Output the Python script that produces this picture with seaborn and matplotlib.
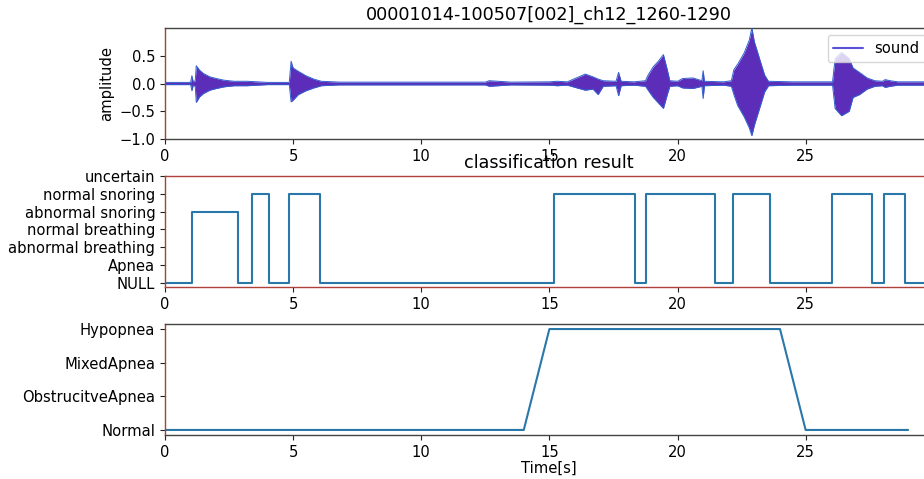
import numpy as np
import pandas as pd
import matplotlib
matplotlib.use("Agg")
import matplotlib.pyplot as plt
import seaborn as sns
from matplotlib.lines import Line2D

# ---------------- data ----------------
title_top = "00001014-100507[002]_ch12_1260-1290"
title_mid = "classification result"

# waveform envelope (time [s], upper / lower amplitude)
wave_t = [0.0, 1.0, 1.05, 1.1, 1.18, 1.22, 1.35, 1.5, 1.75, 2.0, 2.3, 2.7, 3.2, 3.6, 4.0,
          4.85, 4.92, 5.0, 5.2, 5.5, 5.8, 6.1, 6.8, 9.0, 12.5, 12.65, 13.0, 13.5, 15.0,
          15.3, 15.7, 16.0, 16.4, 16.7, 16.9, 17.1, 17.6, 17.7, 17.8, 18.3, 18.75, 18.85,
          19.05, 19.25, 19.45, 19.6, 19.7, 20.0, 20.2, 20.6, 20.95, 21.0, 21.05, 21.8,
          22.1, 22.2, 22.35, 22.6, 22.8, 22.9, 23.0, 23.2, 23.4, 23.55, 24.5, 26.05,
          26.15, 26.4, 26.7, 26.85, 27.1, 27.4, 27.7, 28.0, 28.1, 28.3, 28.6, 30.0]
wave_hi = [0.02, 0.02, 0.14, 0.03, 0.05, 0.32, 0.24, 0.18, 0.12, 0.09, 0.06, 0.04, 0.04, 0.03, 0.02,
           0.02, 0.40, 0.28, 0.22, 0.14, 0.08, 0.04, 0.025, 0.025, 0.025, 0.05, 0.04, 0.025, 0.03,
           0.04, 0.03, 0.09, 0.17, 0.12, 0.08, 0.05, 0.04, 0.20, 0.04, 0.03, 0.05, 0.15,
           0.30, 0.40, 0.52, 0.25, 0.05, 0.04, 0.09, 0.10, 0.05, 0.23, 0.04, 0.03,
           0.05, 0.25, 0.35, 0.55, 0.78, 1.00, 0.75, 0.45, 0.15, 0.04, 0.03, 0.03,
           0.45, 0.56, 0.45, 0.28, 0.20, 0.10, 0.05, 0.04, 0.07, 0.05, 0.03, 0.03]
wave_lo = [-0.02, -0.02, -0.13, -0.03, -0.05, -0.34, -0.24, -0.18, -0.12, -0.09, -0.06, -0.04, -0.04, -0.03, -0.02,
           -0.02, -0.33, -0.30, -0.20, -0.13, -0.08, -0.04, -0.025, -0.025, -0.025, -0.05, -0.04, -0.025, -0.03,
           -0.04, -0.03, -0.07, -0.12, -0.10, -0.20, -0.05, -0.04, -0.22, -0.04, -0.03, -0.05, -0.12,
           -0.25, -0.35, -0.45, -0.20, -0.05, -0.04, -0.08, -0.09, -0.05, -0.27, -0.04, -0.03,
           -0.05, -0.20, -0.40, -0.60, -0.80, -0.94, -0.75, -0.45, -0.15, -0.04, -0.03, -0.03,
           -0.45, -0.58, -0.50, -0.25, -0.20, -0.10, -0.05, -0.04, -0.07, -0.05, -0.03, -0.03]

# classification result (step changes)
class_labels = ["NULL", "Apnea", "abnormal breathing", "normal breathing",
                "abnormal snoring", "normal snoring", "uncertain"]
class_t = [0.0, 1.07, 2.83, 3.41, 4.04, 4.83, 6.03, 15.18, 18.33, 18.76, 21.48,
           22.17, 23.6, 26.02, 27.59, 28.06, 28.88, 30.0]
class_v = [0, 4, 0, 5, 0, 5, 0, 5, 0, 5, 0, 5, 0, 5, 0, 5, 0, 0]

# event annotation
event_labels = ["Normal", "ObstrucitveApnea", "MixedApnea", "Hypopnea"]
event_t = [0, 1, 2, 3, 4, 5, 6, 7, 8, 9, 10, 11, 12, 13, 14, 15, 16, 17, 18, 19,
           20, 21, 22, 23, 24, 25, 26, 27, 28, 29]
event_v = [0, 0, 0, 0, 0, 0, 0, 0, 0, 0, 0, 0, 0, 0, 0, 3, 3, 3, 3, 3,
           3, 3, 3, 3, 3, 0, 0, 0, 0, 0]

xticks = [0, 5, 10, 15, 20, 25]

# ---------------- style ----------------
sns.set_style("ticks")
plt.rcParams["font.family"] = ["DejaVu Sans"]
plt.rcParams["font.size"] = 10.6
plt.rcParams["axes.titlesize"] = 12.7
for k in ("text.color", "axes.labelcolor", "xtick.color", "ytick.color"):
    plt.rcParams[k] = "black"

fig = plt.figure(figsize=(9.24, 4.79), dpi=100)
W = 768 / 924
L = 165 / 924
ax1 = fig.add_axes([L, 1 - 139 / 479, W, 111 / 479])
ax2 = fig.add_axes([L, 1 - 287 / 479, W, 111 / 479])
ax3 = fig.add_axes([L, 1 - 435 / 479, W, 111 / 479])

line_col = "#2a78aa"
purple = "#5b2db8"
blue = "#2f5fd0"
red_sp = "#a8402f"

# --- top: waveform ---
wdf = pd.DataFrame({"t": wave_t, "hi": wave_hi, "lo": wave_lo})
ax1.fill_between(wdf["t"], wdf["lo"], wdf["hi"], color=purple, lw=0, zorder=2)
sns.lineplot(data=wdf, x="t", y="hi", ax=ax1, color=blue, lw=0.7, zorder=3)
sns.lineplot(data=wdf, x="t", y="lo", ax=ax1, color=blue, lw=0.7, zorder=3)
ax1.set_xlim(0, 29.97)
ax1.set_ylim(-1.0, 1.0)
ax1.set_xticks(xticks)
ax1.set_yticks([-1.0, -0.5, 0.0, 0.5])
ax1.set_xlabel("")
ax1.set_ylabel("amplitude")
ax1.set_title(title_top)
ax1.legend(handles=[Line2D([0], [0], color="#5a52d6", lw=1.5)], labels=["sound"],
           loc="upper right", fontsize=10.6)

# --- middle: classification result ---
cdf = pd.DataFrame({"t": class_t, "v": class_v})
sns.lineplot(data=cdf, x="t", y="v", ax=ax2, color=line_col, lw=1.5,
             drawstyle="steps-post", estimator=None)
ax2.set_xlim(0, 29.97)
ax2.set_ylim(-0.25, 6)
ax2.set_xticks(xticks)
ax2.set_yticks(range(len(class_labels)))
ax2.set_yticklabels(class_labels)
ax2.set_xlabel("")
ax2.set_ylabel("")
ax2.set_title(title_mid)

# --- bottom: events ---
edf = pd.DataFrame({"t": event_t, "v": event_v})
sns.lineplot(data=edf, x="t", y="v", ax=ax3, color=line_col, lw=1.5, estimator=None)
ax3.set_xlim(0, 29.97)
ax3.set_ylim(-0.15, 3.15)
ax3.set_xticks(xticks)
ax3.set_yticks(range(len(event_labels)))
ax3.set_yticklabels(event_labels)
ax3.set_xlabel("Time[s]")
ax3.set_ylabel("")
ax3.xaxis.labelpad = 1

for ax in (ax1, ax2, ax3):
    for s in ax.spines.values():
        s.set_color("#444444")
        s.set_linewidth(1.0)
    ax.spines["left"].set_color(red_sp)
    ax.tick_params(labelsize=10.6, length=3.5, color="#222222")
for s in ("top", "bottom"):
    ax2.spines[s].set_color("#b0413a")

fig.savefig("out.png", dpi=100)
